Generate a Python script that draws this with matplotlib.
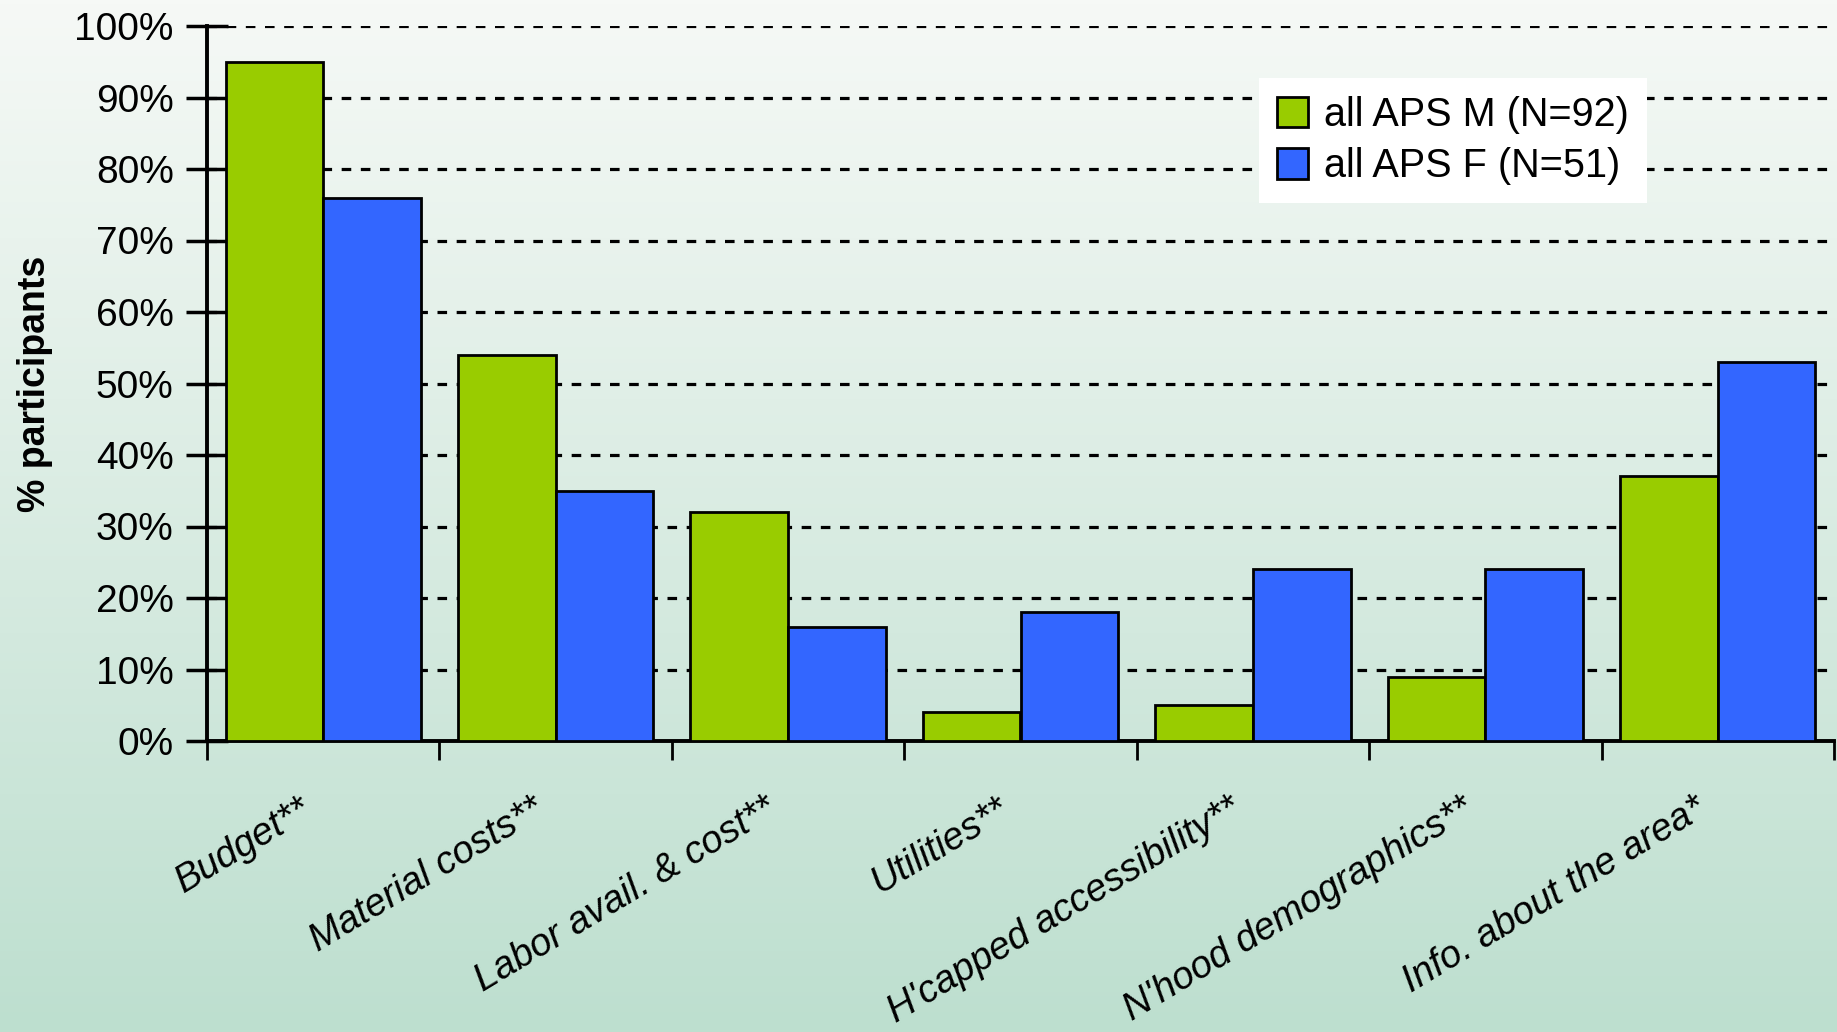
import numpy as np
import matplotlib
matplotlib.use("Agg")
import matplotlib.pyplot as plt
from matplotlib.patches import Patch

categories = ["Budget**", "Material costs**", "Labor avail. & cost**", "Utilities**",
              "H'capped accessibility**", "N'hood demographics**", "Info. about the area*"]
male = [95, 54, 32, 4, 5, 9, 37]
female = [76, 35, 16, 18, 24, 24, 53]
series_names = ["all APS M (N=92)", "all APS F (N=51)"]
yticks = list(range(0, 101, 10))

plt.rcParams['font.family'] = ['Liberation Sans', 'DejaVu Sans']

W, H = 1837, 1032
fig = plt.figure(figsize=(W/100, H/100), dpi=100)

# background gradient
bg = fig.add_axes([0, 0, 1, 1], zorder=-10)
top = np.array([246, 249, 246]) / 255
bot = np.array([189, 223, 207]) / 255
t = np.linspace(0, 1, 256)[:, None]
grad = top[None, :] * (1 - t) + bot[None, :] * t
img = np.repeat(grad[:, None, :], 2, axis=1)
bg.imshow(img, aspect='auto', extent=[0, 1, 0, 1], origin='upper')
bg.axis('off')

left = 207 / W
right = 1834 / W
bottom = 1 - 741 / H
topp = 1 - 26 / H
ax = fig.add_axes([left, bottom, right - left, topp - bottom])
ax.set_facecolor('none')

x = np.arange(len(categories))
w = 0.42
ax.bar(x - w/2, male, w, color='#99CC00', edgecolor='black', linewidth=2, zorder=3, label=series_names[0])
ax.bar(x + w/2, female, w, color='#3366FF', edgecolor='black', linewidth=2, zorder=3, label=series_names[1])

ax.set_xlim(-0.5, len(categories) - 0.5)
ax.set_ylim(0, 100)
ax.set_yticks(yticks)
ax.set_yticklabels([f"{v}%" for v in yticks], fontsize=28)
for v in yticks[1:]:
    ax.axhline(v, color='black', lw=2.3, ls=(0, (3, 3)), zorder=1)

ax.set_xticks(np.arange(-0.5, len(categories), 1.0))
ax.set_xticklabels([])
ax.tick_params(axis='x', direction='out', length=14, width=2)
ax.tick_params(axis='y', direction='inout', length=30, width=2.5, pad=9)

for s in ['top', 'right']:
    ax.spines[s].set_visible(False)
for s in ['left', 'bottom']:
    ax.spines[s].set_linewidth(2.8)

for i, c in enumerate(categories):
    ax.text(i - 0.105, -7.0, c, rotation=31, rotation_mode='anchor', ha='right', va='top',
            fontsize=27.5, style='italic', transform=ax.transData)

ax.set_ylabel("% participants", fontsize=27, fontweight='bold')
ax.yaxis.set_label_coords((53 - 207) / (1834 - 207), 0.5)

handles = [Patch(facecolor='#99CC00', edgecolor='black', linewidth=2),
           Patch(facecolor='#3366FF', edgecolor='black', linewidth=2)]
leg = ax.legend(handles, series_names, loc='upper left',
                bbox_to_anchor=((1259 - 207) / (1834 - 207), 1 - (78 - 26) / 715),
                borderaxespad=0, fontsize=28.5, frameon=True, fancybox=False, framealpha=1,
                edgecolor='white', handlelength=0.8, handleheight=0.8, handletextpad=0.4,
                borderpad=0.45, labelspacing=0.34)
leg.get_frame().set_linewidth(0)

fig.savefig("out.png", dpi=100)
